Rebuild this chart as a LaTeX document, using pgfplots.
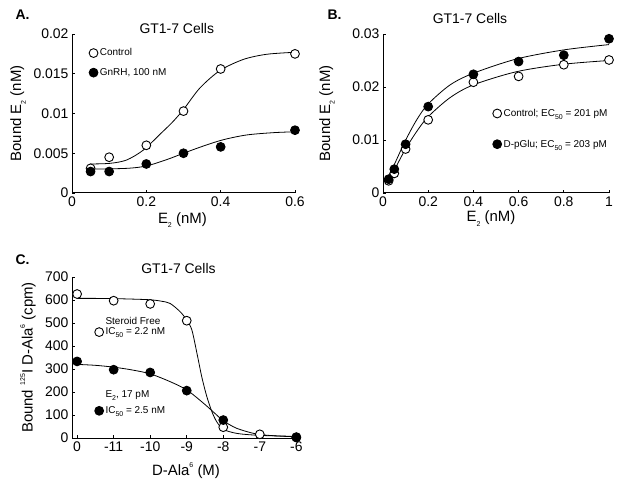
\documentclass[border=0pt]{standalone}
\usepackage{fontspec}
\setmainfont{Liberation Sans}
\usepackage{pgfplots}
\pgfplotsset{compat=1.18}

\newcommand\sbs[1]{\raisebox{-0.6ex}{\fontsize{7}{8}\selectfont #1}}
\newcommand\sps[1]{\raisebox{0.95ex}{\fontsize{7}{8}\selectfont #1}}

\pgfplotsset{
 panel/.style={
  scale only axis, anchor=south west,
  axis x line*=bottom, axis y line*=left,
  axis line style={line width=1bp, -},
  every tick/.style={black, line width=0.8bp},
  major tick length=3bp,
  tick align=inside,
  tick label style={font=\fontsize{14}{16}\selectfont},
  label style={font=\fontsize{15}{17}\selectfont},
  /pgf/number format/assume math mode=true,
  scaled ticks=false,
  clip=false,
  legend style={draw=none, fill=none, inner sep=0pt,
    font=\fontsize{10}{12}\selectfont,
    nodes={inner sep=1pt}, column sep=1bp},
  legend cell align=left,
 },
 curve/.style={black, line width=0.8bp, smooth, tension=0.5, mark=none, forget plot},
 openpt/.style={only marks, mark=*, mark size=4.4bp,
   mark options={draw=black, fill=white, line width=0.9bp},
   legend image code/.code={\draw[##1] plot coordinates {(0bp,0bp)};}},
 fillpt/.style={only marks, mark=*, mark size=4.4bp,
   mark options={draw=black, fill=black, line width=0.9bp},
   legend image code/.code={\draw[##1] plot coordinates {(0bp,0bp)};}},
}

\begin{document}
\begin{tikzpicture}
\useasboundingbox (0,0) rectangle (624bp,490bp);

% ---------------- Panel A ----------------
\begin{axis}[panel, at={(72bp,297bp)}, width=223bp, height=159bp,
  xmin=0, xmax=0.6, ymin=0, ymax=0.02,
  xtick={0,0.2,0.4,0.6}, ytick={0,0.005,0.01,0.015,0.02},
  yticklabel style={/pgf/number format/.cd, fixed, precision=3},
  xticklabel style={/pgf/number format/.cd, fixed, precision=1},
  xlabel={E\sbs{2} (nM)}, ylabel={Bound E\sbs{2} (nM)},
  xlabel style={at={(axis description cs:0.495,-0.189)}, anchor=base},
  ylabel style={at={(axis description cs:-0.242,0.5)}, anchor=center},
  legend style={at={(0.076,0.915)}, anchor=north west, row sep=9bp},
]
\addplot[curve] coordinates {(0.048,0.00365)(0.102,0.00373)(0.147,0.00415)(0.192,0.0054)(0.237,0.0074)(0.27,0.0089)(0.3,0.0105)(0.344,0.0132)(0.398,0.0154)(0.461,0.0168)(0.524,0.01745)(0.6,0.0177)};
\addplot[curve] coordinates {(0.048,0.0030)(0.147,0.0031)(0.2,0.0034)(0.255,0.0042)(0.3,0.0050)(0.353,0.0059)(0.407,0.0067)(0.47,0.0073)(0.542,0.00759)(0.6,0.0077)};
\addplot[openpt] coordinates {(0.05,0.0031)(0.1,0.0045)(0.2,0.0060)(0.3,0.0103)(0.4,0.0156)(0.6,0.0175)};
\addlegendentry{Control}
\addplot[fillpt] coordinates {(0.05,0.0027)(0.1,0.0027)(0.2,0.00365)(0.3,0.0050)(0.4,0.0058)(0.6,0.0079)};
\addlegendentry{GnRH, 100 nM}
\node[anchor=base, font=\fontsize{14}{16}\selectfont] at (axis description cs:0.47,1.006) {GT1-7 Cells};
\end{axis}

% ---------------- Panel B ----------------
\begin{axis}[panel, at={(383bp,297bp)}, width=226bp, height=159bp,
  xmin=0, xmax=1, ymin=0, ymax=0.03,
  xtick={0,0.2,0.4,0.6,0.8,1}, ytick={0,0.01,0.02,0.03},
  yticklabel style={/pgf/number format/.cd, fixed, precision=2},
  xticklabel style={/pgf/number format/.cd, fixed, precision=1},
  xlabel={E\sbs{2} (nM)}, ylabel={Bound E\sbs{2} (nM)},
  xlabel style={at={(axis description cs:0.478,-0.182)}, anchor=base},
  ylabel style={at={(axis description cs:-0.248,0.5)}, anchor=center},
  legend style={at={(0.485,0.535)}, anchor=north west, row sep=20bp},
]
\addplot[curve] coordinates {(0.016,0.0025)(0.046,0.0050)(0.097,0.0097)(0.149,0.0138)(0.2,0.0168)(0.297,0.0204)(0.4,0.0226)(0.592,0.0253)(0.8,0.0270)(1.0,0.0280)};
\addplot[curve] coordinates {(0.016,0.0018)(0.046,0.0040)(0.097,0.0081)(0.149,0.0116)(0.2,0.0144)(0.297,0.0180)(0.4,0.0204)(0.592,0.0229)(0.8,0.0243)(1.0,0.0250)};
\addplot[openpt] coordinates {(0.025,0.0023)(0.05,0.0037)(0.1,0.0083)(0.2,0.0138)(0.4,0.0209)(0.6,0.0220)(0.8,0.0242)(1,0.0251)};
\addlegendentry{Control; EC\sbs{50} = 201 pM}
\addplot[fillpt] coordinates {(0.025,0.0026)(0.05,0.0045)(0.1,0.0092)(0.2,0.0163)(0.4,0.0224)(0.6,0.0248)(0.8,0.0260)(1,0.0291)};
\addlegendentry{D-pGlu; EC\sbs{50} = 203 pM}
\node[anchor=base, font=\fontsize{14}{16}\selectfont] at (axis description cs:0.385,1.063) {GT1-7 Cells};
\end{axis}

% ---------------- Panel C ----------------
\begin{axis}[panel, at={(72bp,52bp)}, width=228bp, height=161bp,
  xmin=-0.14, xmax=6.1, ymin=0, ymax=700,
  xtick={0,1,2,3,4,5,6}, xticklabels={0,-11,-10,-9,-8,-7,-6},
  ytick={0,100,...,700},
  xlabel={D-Ala\sps{6} (M)}, ylabel={Bound \sps{125}I D-Ala\sps{6} (cpm)},
  xlabel style={at={(axis description cs:0.5,-0.23)}, anchor=base},
  ylabel style={at={(axis description cs:-0.193,0.5)}, anchor=center},
  legend style={at={(0.099,0.758)}, anchor=north west, row sep=0bp},
]
\addplot[curve] coordinates {(0,607)(0.5,607)(1,606)(1.5,604)(2,601)(2.3,595)(2.545,585)(2.82,549)(3.0,513)(3.14,470)(3.28,368)(3.41,267)(3.55,180)(3.69,114)(3.82,71)(4.0,38)(4.37,20)(4.92,12)(5.47,9)(6,7)};
\addplot[curve] coordinates {(0,320)(0.5,316)(1,308)(1.5,296)(2,279)(2.545,245)(3.0,209)(3.46,151)(3.82,100)(4.0,75)(4.37,42)(4.92,17)(5.47,9)(6,5)};
\addlegendimage{empty legend}
\addlegendentry{Steroid Free}
\addplot[openpt] coordinates {(0,626)(1,597)(2,583)(3,510)(4,47)(5,16)(6,4)};
\addlegendentry{IC\sbs{50} = 2.2 nM}
\addplot[fillpt] coordinates {(0,333)(1,297)(2,285)(3,206)(4,78)(6,2)};
\node[anchor=base, font=\fontsize{14}{16}\selectfont] at (axis description cs:0.467,1.02) {GT1-7 Cells};
\end{axis}
\begin{axis}[panel, at={(72bp,52bp)}, width=228bp, height=161bp,
  xmin=-0.14, xmax=6.1, ymin=0, ymax=700, hide axis,
  legend style={at={(0.099,0.304)}, anchor=north west, row sep=6bp},
]
\addlegendimage{empty legend}
\addlegendentry{E\sbs{2}, 17 pM}
\addlegendimage{fillpt}
\addlegendentry{IC\sbs{50} = 2.5 nM}
\end{axis}

% panel letters
\node[anchor=base west, font=\bfseries\fontsize{14}{16}\selectfont] at (12bp,470bp) {A.};
\node[anchor=base west, font=\bfseries\fontsize{14}{16}\selectfont] at (324bp,470bp) {B.};
\node[anchor=base west, font=\bfseries\fontsize{14}{16}\selectfont] at (12bp,225bp) {C.};
\end{tikzpicture}
\end{document}
